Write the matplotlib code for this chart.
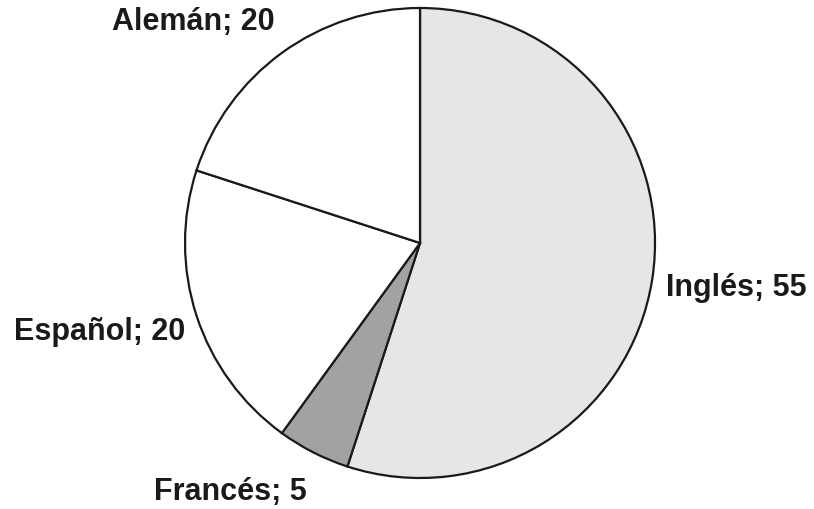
import matplotlib.pyplot as plt

idiomas = ['Inglés', 'Francés', 'Español', 'Alemán']
valores = [55, 5, 20, 20]
colores = ['#e6e6e6', '#a2a2a2', '#ffffff', '#ffffff']

plt.rcParams['font.family'] = ['Liberation Sans', 'DejaVu Sans']

fig = plt.figure(figsize=(8.14, 5.09), dpi=100)
ax = fig.add_axes([0.2273, 0.0609, 0.5774, 0.9234])

etiquetas = ['%s; %d' % (n, v) for n, v in zip(idiomas, valores)]
wedges, texts = ax.pie(valores, labels=etiquetas, colors=colores,
                       startangle=90, counterclock=False, radius=1,
                       labeldistance=1.1,
                       wedgeprops=dict(edgecolor='#1a1a1a', linewidth=1.6),
                       textprops=dict(fontsize=22, fontweight='bold', color='#1a1a1a'))

# ajustar posiciones de las etiquetas
pos = [(1.047, -0.19, 'left'), (-0.481, -1.06, 'right'),
       (-1.0, -0.379, 'right'), (-0.617, 0.94, 'right')]
for t, (x, y, ha) in zip(texts, pos):
    t.set_position((x, y))
    t.set_ha(ha)
    t.set_va('center')

ax.set_xlim(-1, 1)
ax.set_ylim(-1, 1)
ax.set_aspect('equal')

fig.savefig('out.png', dpi=100)
